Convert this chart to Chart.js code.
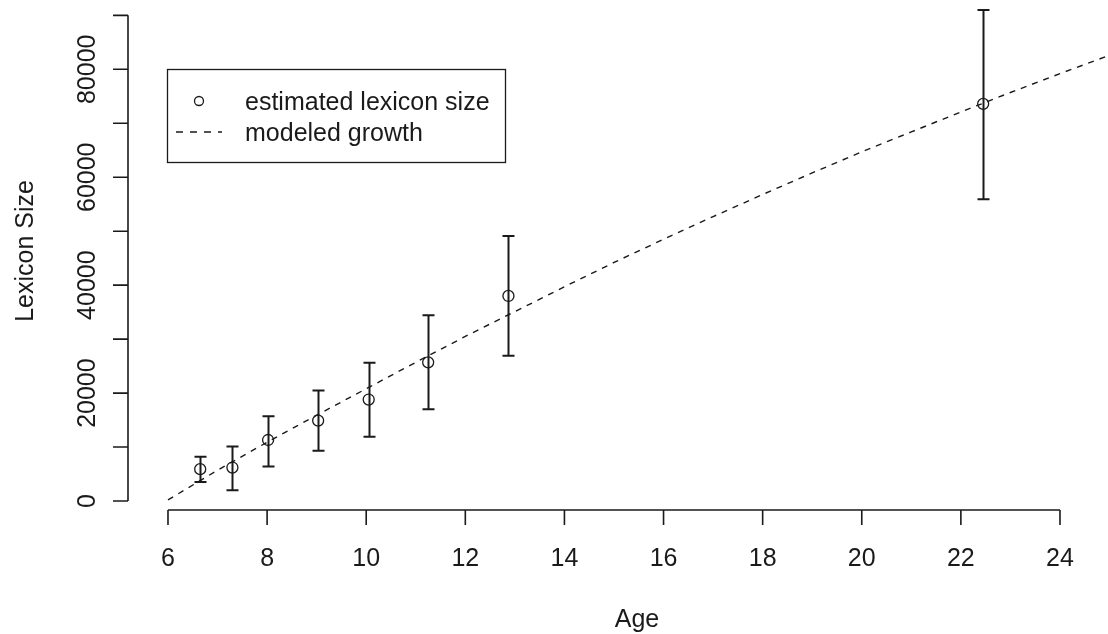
<!DOCTYPE html>
<html>
<head>
<meta charset="utf-8">
<script src="https://cdn.jsdelivr.net/npm/chart.js@4.4.1/dist/chart.umd.min.js"></script>
<style>
    body { margin: 0; background: #ffffff; }
    #wrap { width: 1108px; height: 634px; }
</style>
</head>
<body>
<div id="wrap"><canvas id="lexicon-chart" width="1108" height="634"></canvas></div>
<script>
// Estimated lexicon size by age, with error bars
const ages = [6.65, 7.3, 8.02, 9.03, 10.05, 11.25, 12.87, 22.45];
const lexiconSize = [5900, 6200, 11300, 14900, 18800, 25700, 38000, 73600];
const lowerBound = [3500, 2000, 6400, 9300, 11900, 17000, 26900, 55900];
const upperBound = [8200, 10100, 15700, 20500, 25600, 34400, 49100, 91000];

// Modeled growth curve
const modelAges = [6, 7, 8, 9, 10, 11, 12, 13, 14, 15, 16, 17, 18, 19, 20, 21, 22, 23, 24, 25];
const modelSize = [200, 5700, 10900, 15900, 20800, 25700, 30500, 35100, 39700, 44200,
    48500, 52700, 56800, 60800, 64700, 68400, 72100, 75700, 79200, 82600];

// Axis ticks
const xTicks = [6, 8, 10, 12, 14, 16, 18, 20, 22, 24];
const yTicks = [0, 10000, 20000, 30000, 40000, 50000, 60000, 70000, 80000, 90000];
const yTickLabels = ['0', '', '20000', '', '40000', '', '60000', '', '80000', ''];

const legendLabels = ['estimated lexicon size', 'modeled growth'];

const INK = '#1a1a1a';
const FONT = '25px "Liberation Sans", Arial, sans-serif';

const rAxesPlugin = {
    id: 'rAxes',
    beforeDatasetsDraw(chart) {
        const ctx = chart.ctx;
        const x = chart.scales.x;
        const y = chart.scales.y;

        // error bars
        ctx.save();
        ctx.strokeStyle = INK;
        ctx.lineWidth = 2;
        ages.forEach((age, i) => {
            const px = Math.round(x.getPixelForValue(age)) + 0.5;
            const top = y.getPixelForValue(upperBound[i]);
            const bottom = y.getPixelForValue(lowerBound[i]);
            ctx.beginPath();
            ctx.moveTo(px, top);
            ctx.lineTo(px, bottom);
            ctx.moveTo(px - 6, top);
            ctx.lineTo(px + 6, top);
            ctx.moveTo(px - 6, bottom);
            ctx.lineTo(px + 6, bottom);
            ctx.stroke();
        });
        ctx.restore();
    },
    afterDraw(chart) {
        const ctx = chart.ctx;
        const x = chart.scales.x;
        const y = chart.scales.y;
        const axisY = 510;
        const axisX = 128;

        ctx.save();
        ctx.strokeStyle = INK;
        ctx.fillStyle = INK;
        ctx.lineWidth = 1.6;
        ctx.font = FONT;

        // x axis
        ctx.beginPath();
        ctx.moveTo(x.getPixelForValue(xTicks[0]), axisY);
        ctx.lineTo(x.getPixelForValue(xTicks[xTicks.length - 1]), axisY);
        xTicks.forEach(t => {
            const px = x.getPixelForValue(t);
            ctx.moveTo(px, axisY);
            ctx.lineTo(px, axisY + 15);
        });
        ctx.stroke();
        ctx.textAlign = 'center';
        ctx.textBaseline = 'alphabetic';
        xTicks.forEach(t => {
            ctx.fillText(String(t), x.getPixelForValue(t), 566);
        });
        ctx.fillText('Age', 637, 627);

        // y axis
        ctx.beginPath();
        ctx.moveTo(axisX, y.getPixelForValue(yTicks[0]));
        ctx.lineTo(axisX, y.getPixelForValue(yTicks[yTicks.length - 1]));
        yTicks.forEach(t => {
            const py = y.getPixelForValue(t);
            ctx.moveTo(axisX, py);
            ctx.lineTo(axisX - 15, py);
        });
        ctx.stroke();
        yTicks.forEach((t, i) => {
            if (!yTickLabels[i]) return;
            ctx.save();
            ctx.translate(95, y.getPixelForValue(t));
            ctx.rotate(-Math.PI / 2);
            ctx.fillText(yTickLabels[i], 0, 0);
            ctx.restore();
        });
        ctx.save();
        ctx.translate(33, 251);
        ctx.rotate(-Math.PI / 2);
        ctx.fillText('Lexicon Size', 0, 0);
        ctx.restore();

        // legend box
        ctx.lineWidth = 1.3;
        ctx.strokeRect(167.5, 69.5, 338, 93);
        ctx.beginPath();
        ctx.arc(199, 101, 4.5, 0, Math.PI * 2);
        ctx.stroke();
        ctx.setLineDash([7, 7]);
        ctx.beginPath();
        ctx.moveTo(176, 132);
        ctx.lineTo(222, 132);
        ctx.stroke();
        ctx.setLineDash([]);
        ctx.textAlign = 'left';
        ctx.textBaseline = 'middle';
        ctx.fillText(legendLabels[0], 245, 103);
        ctx.fillText(legendLabels[1], 245, 134);
        ctx.restore();
    }
};

const ctx = document.getElementById('lexicon-chart').getContext('2d');
new Chart(ctx, {
    type: 'scatter',
    data: {
        datasets: [
            {
                label: legendLabels[0],
                data: ages.map((a, i) => ({ x: a, y: lexiconSize[i] })),
                pointRadius: 5.5,
                pointBorderWidth: 1.3,
                pointBorderColor: INK,
                pointBackgroundColor: 'rgba(0,0,0,0)',
                showLine: false
            },
            {
                label: legendLabels[1],
                type: 'line',
                data: modelAges.map((a, i) => ({ x: a, y: modelSize[i] })),
                borderColor: INK,
                borderWidth: 1.4,
                borderDash: [6, 6],
                pointRadius: 0,
                tension: 0,
                fill: false
            }
        ]
    },
    options: {
        responsive: false,
        animation: false,
        layout: { autoPadding: false, padding: { left: 128, right: 0, top: 0, bottom: 124 } },
        scales: {
            x: { type: 'linear', display: false, min: 5.193, max: 24.969 },
            y: { type: 'linear', display: false, min: -1668, max: 92845 }
        },
        plugins: {
            legend: { display: false },
            tooltip: { enabled: false }
        }
    },
    plugins: [rAxesPlugin]
});
</script>
</body>
</html>
